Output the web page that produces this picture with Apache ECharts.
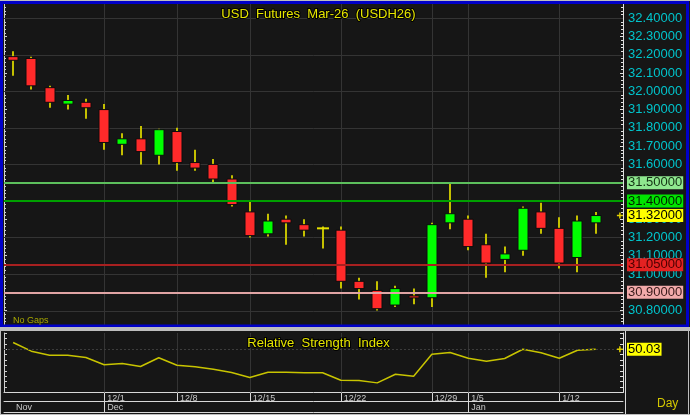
<!DOCTYPE html>
<html><head><meta charset="utf-8">
<script src="https://cdn.jsdelivr.net/npm/echarts@6/dist/echarts.min.js"></script>
<style>html,body{margin:0;padding:0;background:#161616;}#c{width:690px;height:415px;}</style>
</head><body><div id="c"></div>
<script>
// ---------- DATA ----------
const categories = ['11/20','11/21','11/24','11/25','11/26',
  '12/1','12/2','12/3','12/4',
  '12/8','12/9','12/10','12/11',
  '12/15','12/16','12/17','12/18','12/19',
  '12/22','12/23','12/24','12/26','12/27',
  '12/29','12/30',
  '1/5','1/6','1/7','1/8','1/9',
  '1/12','1/13','1/14',''];
const opens  = [32.19,32.18,32.02,31.93,31.94,31.90,31.71,31.74,31.65,31.78,31.61,31.60,31.52,31.34,31.22,31.30,31.27,31.25,31.24,30.96,30.91,30.83,30.88,30.87,31.28,31.30,31.16,31.08,31.13,31.34,31.25,31.09,31.28];
const closes = [32.17,32.03,31.94,31.95,31.91,31.72,31.74,31.67,31.79,31.61,31.58,31.52,31.38,31.21,31.29,31.28,31.24,31.25,30.96,30.92,30.81,30.92,30.87,31.27,31.33,31.15,31.06,31.11,31.36,31.25,31.06,31.29,31.32];
const lows   = [32.085,32.01,31.91,31.90,31.85,31.68,31.65,31.60,31.60,31.565,31.565,31.50,31.37,31.20,31.205,31.16,31.205,31.14,30.92,30.86,30.80,30.82,30.835,30.82,31.245,31.13,30.98,31.01,31.10,31.22,31.03,31.01,31.22];
const highs  = [32.22,32.19,32.03,31.98,31.96,31.93,31.77,31.81,31.795,31.80,31.68,31.63,31.54,31.40,31.33,31.32,31.30,31.26,31.26,30.98,30.96,30.935,30.92,31.28,31.50,31.32,31.22,31.15,31.37,31.39,31.31,31.32,31.34];
const rsiValues = [56.2,48.2,44.5,44.5,42.3,35.6,36.8,34.0,42.1,35.2,33.7,31.5,28.5,23.8,28.7,28.7,28.2,28.2,21.3,21.1,18.9,26.9,25.0,45.4,47.0,41.7,38.9,41.4,50.0,46.7,41.7,49.1,50.03];
const tickLabels = ['12/1','12/8','12/15','12/22','12/29','1/5','1/12'];
const monthCats  = ['11/20','12/1','1/5'];
const monthNames = ['Nov','Dec','Jan'];
const priceGridValues = [30.8, 31.0, 31.2, 31.4, 31.6, 31.8, 32.0, 32.2, 32.4];
const levelValues = [31.5, 31.4, 31.05, 30.9];
const lastPrice = 31.32;
const rsiLast = 50.03;
const titleText = 'USD  Futures  Mar-26  (USDH26)';
const rsiTitle = 'Relative  Strength  Index';

// ---------- STYLE ----------
const FONT = '"Liberation Sans", Arial, sans-serif';
const levelStyles = [
  {line:'#5cbf5c', bg:'#8fe88f', fg:'#143214'},
  {line:'#00a000', bg:'#00e400', fg:'#002000'},
  {line:'#a82020', bg:'#e42222', fg:'#4a0000'},
  {line:'#e0a4a4', bg:'#f2aaaa', fg:'#3a1a1a'}
];
const lastIdx = categories.length - 1;
const tickIdx = tickLabels.map(t => categories.indexOf(t));
const candleData = opens.map((o,i) => [i, o, closes[i], lows[i], highs[i]]);
const plusPath = 'path://M3,0H5V3H8V5H5V8H3V5H0V3H3Z';

function renderCandle(params, api){
  const i = api.value(0), o = api.value(1), c = api.value(2), l = api.value(3), h = api.value(4);
  const pH = api.coord([i,h]), pL = api.coord([i,l]), pO = api.coord([i,o]), pC = api.coord([i,c]);
  const bw = Math.round(api.size([1,0])[0]*0.56);
  const x = Math.round(pH[0]);
  const ch = [{type:'line', shape:{x1:x, y1:pH[1], x2:x, y2:pL[1]}, style:{stroke:'#c4c000', lineWidth:2}}];
  if (o === c) {
    ch.push({type:'line', shape:{x1:x-bw/2-1, y1:pO[1], x2:x+bw/2+1, y2:pO[1]}, style:{stroke:'#e4e000', lineWidth:2}});
  } else {
    const top = Math.min(pO[1], pC[1]), bot = Math.max(pO[1], pC[1]);
    ch.push({type:'rect', shape:{x:x-bw/2, y:top, width:bw, height:Math.max(bot-top,2)},
      style:{fill: c > o ? '#00ff00' : '#ff2a2a', stroke:'#0c0c0c', lineWidth:1}});
  }
  return {type:'group', children: ch};
}
function renderVLine(params, api){
  const x = Math.round(api.coord([api.value(0), api.value(1)])[0]) + 0.5;
  const cs = params.coordSys;
  return {type:'line', shape:{x1:x, y1:cs.y, x2:x, y2:cs.y+cs.height}, style:{stroke:'#343434', lineWidth:1}};
}
function renderHLine(params, api){
  const y = Math.round(api.coord([0, api.value(1)])[1]) + 0.5;
  const cs = params.coordSys;
  return {type:'line', shape:{x1:cs.x, y1:y, x2:cs.x+cs.width, y2:y}, style:{stroke:'#343434', lineWidth:1}};
}
const boxLabel = (txt, bg, fg) => ({show:true, position:'end', distance:4, formatter:txt,
  backgroundColor:bg, color:fg, fontSize:13, fontFamily:FONT, padding:[1,1,0,1], lineHeight:12});

const chart = echarts.init(document.getElementById('c'));
const option = {
  backgroundColor:'#161616',
  animation:false,
  textStyle:{fontFamily:FONT},
  title:[
    {text:titleText, left:313.5, top:3, textAlign:'center',
     textStyle:{color:'#e6e600', fontSize:13, fontWeight:'normal', fontFamily:FONT, textBorderColor:'#000', textBorderWidth:2}},
    {text:rsiTitle, left:313.5, top:332, textAlign:'center',
     textStyle:{color:'#e6e600', fontSize:13, fontWeight:'normal', fontFamily:FONT, textBorderColor:'#000', textBorderWidth:2}}
  ],
  grid:[
    {left:4, width:619, top:0, height:328.8},
    {left:4, width:619, top:333, height:59.5}
  ],
  xAxis:[
    {type:'category', gridIndex:0, data:categories, boundaryGap:true, show:false},
    {type:'category', gridIndex:1, data:categories, boundaryGap:true, position:'bottom',
     axisLine:{show:true, lineStyle:{color:'#d8d8d8', width:1}},
     axisTick:{show:true, alignWithLabel:true, length:9, inside:false, lineStyle:{color:'#d8d8d8'},
       interval:(idx, v) => tickLabels.indexOf(v) >= 0},
     axisLabel:{show:true, margin:2, fontSize:9, color:'#c8c8c8', align:'left', padding:[0,0,0,3],
       interval:(idx, v) => tickLabels.indexOf(v) >= 0},
     splitLine:{show:false}},
    {type:'category', gridIndex:1, data:categories, boundaryGap:true, position:'bottom', offset:9,
     axisLine:{show:true, lineStyle:{color:'#d8d8d8', width:1}},
     axisTick:{show:true, alignWithLabel:true, length:11, lineStyle:{color:'#d8d8d8'},
       interval:(idx, v) => idx > 0 && monthCats.indexOf(v) >= 0},
     axisLabel:{show:true, margin:2, fontSize:9, color:'#c8c8c8', align:'left', padding:[0,0,0,3],
       interval:(idx, v) => monthCats.indexOf(v) >= 0,
       formatter:(v) => monthNames[monthCats.indexOf(v)]},
     splitLine:{show:false}},
    {type:'category', gridIndex:1, data:categories, boundaryGap:true, position:'bottom', offset:20,
     axisLine:{show:true, lineStyle:{color:'#d8d8d8', width:1}},
     axisTick:{show:false}, axisLabel:{show:false}, splitLine:{show:false}}
  ],
  yAxis:[
    {type:'value', gridIndex:0, position:'right', min:30.7, max:32.5, interval:0.1,
     axisLine:{show:true, lineStyle:{color:'#e0e0e0'}},
     axisTick:{show:true, inside:true, length:3, lineStyle:{color:'#e0e0e0'}},
     minorTick:{show:true, splitNumber:5, length:2, lineStyle:{color:'#e0e0e0'}},
     axisLabel:{show:true, margin:5, fontSize:13, color:'#00c4cc', fontFamily:FONT,
       formatter:(v) => (v < 30.75 || v > 32.45) ? '' : v.toFixed(5)},
     splitLine:{show:false}},
    {type:'value', gridIndex:0, position:'left', min:30.7, max:32.5, interval:0.1,
     axisLine:{show:true, lineStyle:{color:'#d0d0d0'}},
     axisTick:{show:true, inside:true, length:3, lineStyle:{color:'#d0d0d0'}},
     minorTick:{show:true, splitNumber:5, length:2, lineStyle:{color:'#d0d0d0'}},
     axisLabel:{show:false}, splitLine:{show:false}},
    {type:'value', gridIndex:1, position:'right', min:10, max:65, interval:5,
     axisLine:{show:true, lineStyle:{color:'#e0e0e0'}},
     axisTick:{show:true, inside:true, length:3, lineStyle:{color:'#e0e0e0'}},
     axisLabel:{show:false}, splitLine:{show:false}},
    {type:'value', gridIndex:1, position:'left', min:10, max:65, interval:5,
     axisLine:{show:true, lineStyle:{color:'#d0d0d0'}},
     axisTick:{show:true, inside:true, length:3, lineStyle:{color:'#d0d0d0'}},
     axisLabel:{show:false}, splitLine:{show:false}}
  ],
  series:[
    {type:'custom', xAxisIndex:0, yAxisIndex:0, z:1, silent:true,
     data: tickIdx.map(i => [i, 31]), renderItem: renderVLine},
    {type:'custom', xAxisIndex:0, yAxisIndex:0, z:1, silent:true,
     data: priceGridValues.map(v => [0, v]), renderItem: renderHLine},
    {type:'custom', xAxisIndex:0, yAxisIndex:0, z:3, silent:true,
     data: candleData, encode:{x:0, y:[1,2,3,4]}, renderItem: renderCandle,
     markLine:{silent:true, symbol:'none', animation:false,
       data: levelValues.map((v,k) => ({yAxis:v,
         lineStyle:{color:levelStyles[k].line, width:2, type:'solid'},
         label: boxLabel(v.toFixed(5), levelStyles[k].bg, levelStyles[k].fg)})).concat([
         {yAxis:lastPrice, lineStyle:{color:'rgba(0,0,0,0)', width:1},
          label: boxLabel(lastPrice.toFixed(5), '#ffff00', '#000')}])},
     markPoint:{silent:true, symbol:plusPath, symbolSize:6, symbolOffset:[6,0],
       itemStyle:{color:'#e0d000'}, label:{show:false},
       data:[{coord:[lastIdx, lastPrice]}]}},
    {type:'custom', xAxisIndex:1, yAxisIndex:2, z:1, silent:true,
     data: tickIdx.map(i => [i, 30]), renderItem: renderVLine},
    {type:'line', xAxisIndex:1, yAxisIndex:2, z:3, silent:true, data: rsiValues, symbol:'none',
     lineStyle:{color:'#c8c400', width:1.5},
     markLine:{silent:true, symbol:'none', animation:false,
       data:[{yAxis:rsiLast, lineStyle:{color:'#3c3c3c', width:1, type:[2,2]},
         label: boxLabel(rsiLast.toFixed(2), '#ffff00', '#000')}]},
     markPoint:{silent:true, symbol:plusPath, symbolSize:6, symbolOffset:[6,0],
       itemStyle:{color:'#e0d000'}, label:{show:false},
       data:[{coord:[lastIdx, rsiLast]}]}}
  ],
  graphic:[
    {type:'rect', z:100, silent:true, shape:{x:1.5, y:2.5, width:686, height:323.5},
     style:{fill:null, stroke:'#0000c8', lineWidth:3}},
    {type:'rect', z:100, silent:true, shape:{x:0, y:327, width:690, height:4},
     style:{fill:'#bdbdbd'}},
    {type:'rect', z:100, silent:true, shape:{x:0, y:0, width:690, height:1},
     style:{fill:'#bdbdbd'}},
    {type:'line', z:100, silent:true, shape:{x1:625.5, y1:331, x2:625.5, y2:414}, style:{stroke:'#d8d8d8', lineWidth:1}},
    {type:'line', z:100, silent:true, shape:{x1:0.5, y1:331, x2:0.5, y2:414}, style:{stroke:'#bdbdbd', lineWidth:1}},
    {type:'line', z:100, silent:true, shape:{x1:688.5, y1:331, x2:688.5, y2:414}, style:{stroke:'#bdbdbd', lineWidth:1}},
    {type:'line', z:100, silent:true, shape:{x1:0, y1:414.5, x2:690, y2:414.5}, style:{stroke:'#bdbdbd', lineWidth:1}},
    {type:'text', z:100, silent:true, left:13, top:316, style:{text:'No Gaps', fill:'#a8a800', fontSize:9, fontFamily:FONT}},
    {type:'text', z:100, silent:true, left:657, top:398, style:{text:'Day', fill:'#d4c800', fontSize:12, fontFamily:FONT}}
  ]
};
chart.setOption(option);
</script>
</body></html>
